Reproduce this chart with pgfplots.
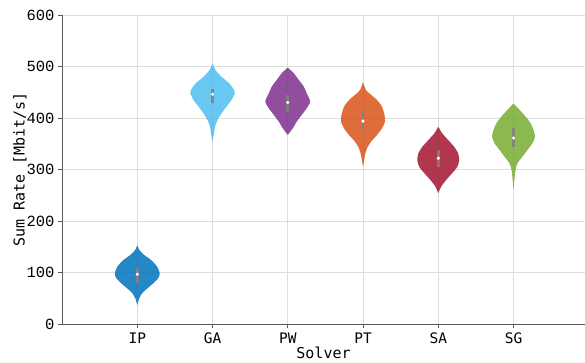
\documentclass[border=0pt]{standalone}
\usepackage{pgfplots}
\pgfplotsset{compat=1.18}
\usepackage{pgfplotstable}
\usepgfplotslibrary{fillbetween}
\usepackage{fontspec}
\setmainfont{DejaVu Sans Mono}
\newfontfamily\tickfont{Liberation Mono}
\definecolor{cIP}{rgb}{0,0.447,0.741}
\definecolor{cGA}{rgb}{0.301,0.745,0.933}
\definecolor{cPW}{rgb}{0.494,0.184,0.556}
\definecolor{cPT}{rgb}{0.85,0.325,0.098}
\definecolor{cSA}{rgb}{0.635,0.078,0.184}
\definecolor{cSG}{rgb}{0.466,0.674,0.188}
\definecolor{axgray}{RGB}{90,90,90}
\definecolor{gridgray}{RGB}{222,222,222}

\pgfplotstableread{
y w
153 0
144 2
134 7
124 14
111 20
98 22.5
89 21
79 16
69 10
60 5
50 2
37 0
}\ipdata
\pgfplotstableread{
y w
506 0
493 3
480 9
467 17
454 21.7
448 22.3
435 19
422 14
409 9
396 5
383 2.5
370 1.5
354 0
}\gadata
\pgfplotstableread{
y w
498 0
487 6
474 11
461 16
448 19
432 22.5
419 19
406 14
393 9
380 5
367 0
}\pwdata
\pgfplotstableread{
y w
470 0
454 3
445 8
435 14
422 19
406 21.5
393 22
380 19
367 14
354 8
341 4
328 2
305 0
}\ptdata
\pgfplotstableread{
y w
383 0
370 4
357 10
344 16
331 20
318 21
305 19
293 14
280 8
267 3
254 0
}\sadata
\pgfplotstableread{
y w
428 0
416 6
403 12
390 17
377 20
364 21.5
351 19
338 14
325 9
312 4
299 2
283 1
260 0
}\sgdata

\newcommand{\violin}[4]{%
  \addplot[name path=R#1, draw=none, smooth, tension=0.4, forget plot] table[x expr=#2+\thisrow{w}/75.3, y=y] {#3};
  \addplot[name path=L#1, draw=none, smooth, tension=0.4, forget plot] table[x expr=#2-\thisrow{w}/75.3, y=y] {#3};
  \addplot[fill=#4, fill opacity=0.85, draw=none, forget plot] fill between[of=R#1 and L#1];
}
\newcommand{\violinbox}[4]{%
  \addplot[draw=gray, draw opacity=0.85, line width=2.6pt, forget plot] coordinates {(#1,#2) (#1,#3)};
  \addplot[only marks, mark=*, mark size=1.4pt, mark options={draw=white, fill=white}, forget plot] coordinates {(#1,#4)};
}

\begin{document}
\begin{tikzpicture}
\begin{axis}[
  scale only axis,
  width=523pt, height=309pt,
  xmin=0, xmax=6.95,
  ymin=0, ymax=600,
  axis x line*=bottom, axis y line*=left,
  axis line style={axgray, line width=0.9pt},
  xtick={1,2,3,4,5,6},
  xticklabels={IP,GA,PW,PT,SA,SG},
  ytick={0,100,200,300,400,500,600},
  tick align=outside,
  major tick length=4pt,
  tick style={axgray, line width=0.8pt},
  grid=major,
  major grid style={gridgray, line width=0.8pt},
  x tick label style={font=\fontsize{14.5}{16}\selectfont, yshift=-1pt},
  y tick label style={font=\tickfont\fontsize{15.5}{17}\selectfont},
  /pgf/number format/assume math mode=true,
  xlabel={Solver},
  ylabel={Sum Rate [Mbit/s]},
  label style={font=\fontsize{15}{17}\selectfont},
  xlabel style={yshift=3pt},
  ylabel style={yshift=-7pt},
  clip=false,
]
\violin{a}{1}{\ipdata}{cIP}
\violin{b}{2}{\gadata}{cGA}
\violin{c}{3}{\pwdata}{cPW}
\violin{d}{4}{\ptdata}{cPT}
\violin{e}{5}{\sadata}{cSA}
\violin{f}{6}{\sgdata}{cSG}
\violinbox{1}{79}{108}{96.5}
\violinbox{2}{430}{457}{446}
\violinbox{3}{412}{445}{430}
\violinbox{4}{377}{412}{394}
\violinbox{5}{305}{338}{322}
\violinbox{6}{344}{380}{361}
\end{axis}
\pgfresetboundingbox
\path (-62pt,-38pt) rectangle (523pt,324pt);
\end{tikzpicture}
\end{document}
